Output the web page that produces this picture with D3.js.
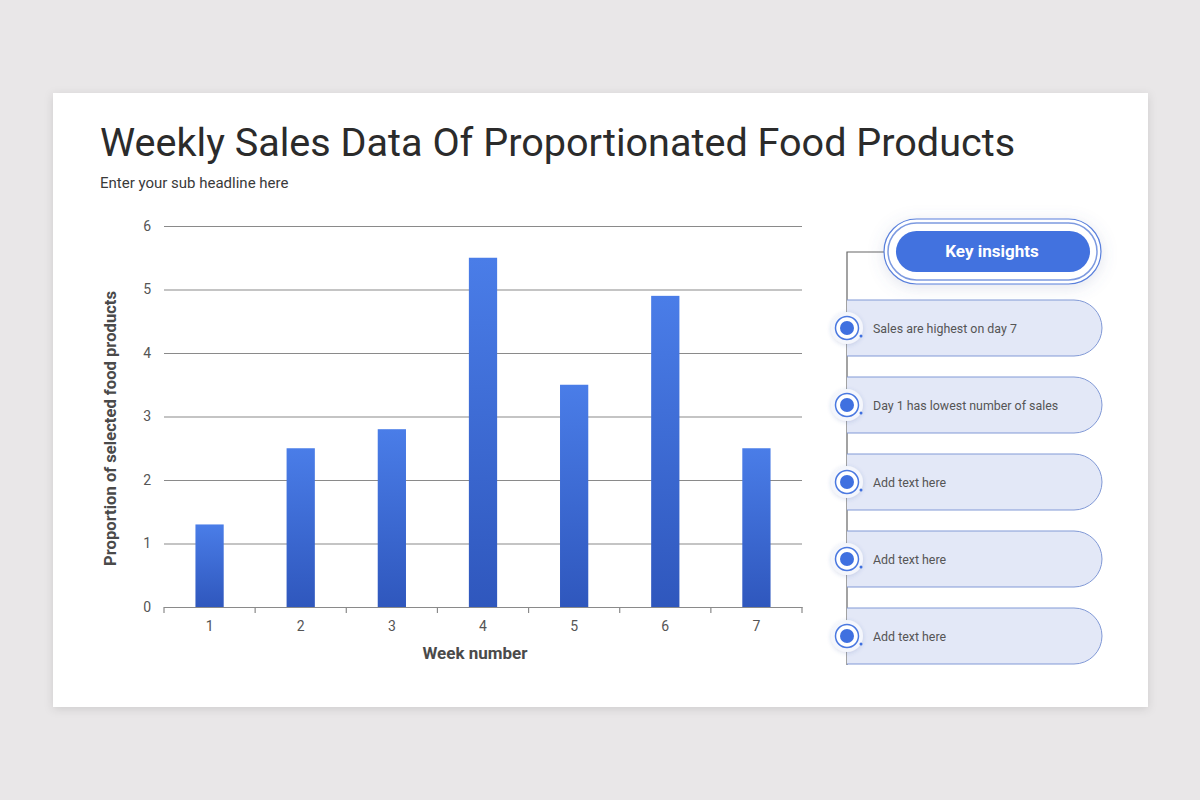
<!DOCTYPE html>
<html>
<head>
<meta charset="utf-8">
<script src="https://cdn.jsdelivr.net/npm/d3@7"></script>
<style>
  html, body { margin: 0; padding: 0; background: #e9e7e8; }
  svg { display: block; font-family: Roboto, "Noto Sans", sans-serif; }
</style>
</head>
<body>
<svg id="chart" width="1200" height="800"></svg>
<script>
const weeks = ["1", "2", "3", "4", "5", "6", "7"];
const proportions = [1.3, 2.5, 2.8, 5.5, 3.5, 4.9, 2.5];
const yTicks = [0, 1, 2, 3, 4, 5, 6];
const insights = [
  "Sales are highest on day 7",
  "Day 1 has lowest number of sales",
  "Add text here",
  "Add text here",
  "Add text here"
];
const titleText = "Weekly Sales Data Of Proportionated Food Products";
const subtitleText = "Enter your sub headline here";
const xLabel = "Week number";
const yLabel = "Proportion of selected food products";
const panelTitle = "Key insights";

const svg = d3.select("#chart");
const defs = svg.append("defs");

// shadows
const sh = defs.append("filter").attr("id", "cardShadow").attr("x", "-10%").attr("y", "-10%").attr("width", "120%").attr("height", "120%");
sh.append("feDropShadow").attr("dx", 0).attr("dy", 2).attr("stdDeviation", 5).attr("flood-color", "#000").attr("flood-opacity", 0.12);

const glow = defs.append("filter").attr("id", "glow").attr("x", "-30%").attr("y", "-60%").attr("width", "160%").attr("height", "220%");
glow.append("feDropShadow").attr("dx", 0).attr("dy", 3).attr("stdDeviation", 8).attr("flood-color", "#6070a0").attr("flood-opacity", 0.18);

const dotShadow = defs.append("filter").attr("id", "dotShadow").attr("x", "-50%").attr("y", "-50%").attr("width", "200%").attr("height", "200%");
dotShadow.append("feDropShadow").attr("dx", 0).attr("dy", 1).attr("stdDeviation", 2).attr("flood-color", "#3050a0").attr("flood-opacity", 0.2);

const grad = defs.append("linearGradient").attr("id", "barGrad").attr("x1", 0).attr("y1", 0).attr("x2", 0).attr("y2", 1);
grad.append("stop").attr("offset", "0%").attr("stop-color", "#4a7de8");
grad.append("stop").attr("offset", "100%").attr("stop-color", "#2f57bd");

// card
svg.append("rect").attr("x", 53).attr("y", 93).attr("width", 1095).attr("height", 614)
  .attr("fill", "#ffffff").attr("filter", "url(#cardShadow)");

// titles
svg.append("text").attr("x", 100).attr("y", 156).attr("font-size", 39.6).attr("fill", "#2b2b2b")
  .text(titleText);
svg.append("text").attr("x", 100).attr("y", 188).attr("font-size", 15).attr("fill", "#3a3a3a")
  .text(subtitleText);

// chart
const margin = { left: 164, right: 802, top: 226, bottom: 607 };
const x = d3.scaleBand().domain(weeks).range([margin.left, margin.right]).paddingInner(0.69).paddingOuter(0.345);
const xOuter = d3.scaleBand().domain(weeks).range([margin.left, margin.right]);
const y = d3.scaleLinear().domain([0, 6]).range([margin.bottom, margin.top]);

const g = svg.append("g");

// gridlines
g.append("g").attr("transform", `translate(${margin.left},0)`)
  .call(d3.axisLeft(y).tickValues(yTicks).tickSize(-(margin.right - margin.left)).tickFormat(d3.format("d")).tickPadding(13))
  .call(a => a.select(".domain").remove())
  .call(a => a.selectAll(".tick line").attr("stroke", "#8a8a8a").attr("stroke-width", 1.2))
  .call(a => a.selectAll(".tick text").attr("fill", "#555").attr("font-size", 14).attr("font-family", "Roboto"));

// bars
g.selectAll("rect.bar").data(proportions).enter().append("rect")
  .attr("class", "bar")
  .attr("x", (d, i) => x(weeks[i]))
  .attr("width", x.bandwidth())
  .attr("y", d => y(d))
  .attr("height", d => y(0) - y(d))
  .attr("fill", "url(#barGrad)");

// x axis
const xAxisG = g.append("g").attr("transform", `translate(0,${margin.bottom})`);
xAxisG.call(d3.axisBottom(xOuter).tickSize(0).tickPadding(14))
  .call(a => a.select(".domain").attr("stroke", "#8a8a8a").attr("stroke-width", 1.2))
  .call(a => a.selectAll(".tick text").attr("fill", "#555").attr("font-size", 14).attr("font-family", "Roboto"));
const boundaries = weeks.map(w => xOuter(w)).concat([margin.right]);
xAxisG.selectAll("line.bt").data(boundaries).enter().append("line")
  .attr("class", "bt").attr("x1", d => d).attr("x2", d => d).attr("y1", 0).attr("y2", 6)
  .attr("stroke", "#8a8a8a").attr("stroke-width", 1.2);

// axis labels
svg.append("text").attr("x", (margin.left + margin.right) / 2 - 8).attr("y", 659)
  .attr("text-anchor", "middle").attr("font-size", 17).attr("font-weight", "bold").attr("fill", "#4a4a4a")
  .text(xLabel);
svg.append("text").attr("transform", `translate(116,${(margin.top + margin.bottom) / 2 + 12}) rotate(-90)`)
  .attr("text-anchor", "middle").attr("font-size", 16.6).attr("font-weight", "bold").attr("fill", "#4a4a4a")
  .text(yLabel);

// right panel
const panel = svg.append("g");
const rowY = d3.scalePoint().domain(d3.range(insights.length)).range([328, 636]);
const lineX = 847;

panel.append("path").attr("d", `M${lineX},665 L${lineX},252 L886,252`)
  .attr("fill", "none").attr("stroke", "#666").attr("stroke-width", 1.2);

// key insights button
const btn = panel.append("g");
btn.append("rect").attr("x", 884).attr("y", 219).attr("width", 217).attr("height", 65).attr("rx", 32.5)
  .attr("fill", "#ffffff").attr("stroke", "#5a80dc").attr("stroke-width", 1.2).attr("filter", "url(#glow)");
btn.append("rect").attr("x", 888).attr("y", 223).attr("width", 209).attr("height", 57).attr("rx", 28.5)
  .attr("fill", "none").attr("stroke", "#7d9ae0").attr("stroke-width", 1.5);
btn.append("rect").attr("x", 896).attr("y", 231).attr("width", 194).attr("height", 41).attr("rx", 20.5)
  .attr("fill", "#4272df");
btn.append("text").attr("x", 992).attr("y", 257).attr("text-anchor", "middle")
  .attr("font-size", 17).attr("font-weight", "bold").attr("fill", "#ffffff").text(panelTitle);

// pills
const pillW = 255, pillH = 56, r = 28;
const rows = panel.selectAll("g.row").data(insights).enter().append("g").attr("class", "row")
  .attr("transform", (d, i) => `translate(${lineX},${rowY(i)})`);

rows.append("path")
  .attr("d", `M0,${-pillH / 2} L${pillW - r},${-pillH / 2} A${r},${r} 0 0 1 ${pillW - r},${pillH / 2} L0,${pillH / 2} Z`)
  .attr("fill", "#e3e8f7").attr("stroke", "none");
rows.append("path")
  .attr("d", `M0,${-pillH / 2} L${pillW - r},${-pillH / 2} A${r},${r} 0 0 1 ${pillW - r},${pillH / 2} L0,${pillH / 2}`)
  .attr("fill", "none").attr("stroke", "#8199d6").attr("stroke-width", 1);

rows.append("circle").attr("cx", 0).attr("cy", 0).attr("r", 16).attr("fill", "#f4f6fc").attr("filter", "url(#dotShadow)");
rows.append("circle").attr("cx", 0).attr("cy", 0).attr("r", 11.5).attr("fill", "#ffffff").attr("stroke", "#4a78e0").attr("stroke-width", 1.5);
rows.append("circle").attr("cx", 0).attr("cy", 0).attr("r", 7).attr("fill", "#3f70e0");
rows.append("circle").attr("cx", 14).attr("cy", 8).attr("r", 1.5).attr("fill", "#3f70e0");

rows.append("text").attr("x", 26).attr("y", 4.5).attr("font-size", 12.4).attr("fill", "#555")
  .text(d => d);
</script>
</body>
</html>
